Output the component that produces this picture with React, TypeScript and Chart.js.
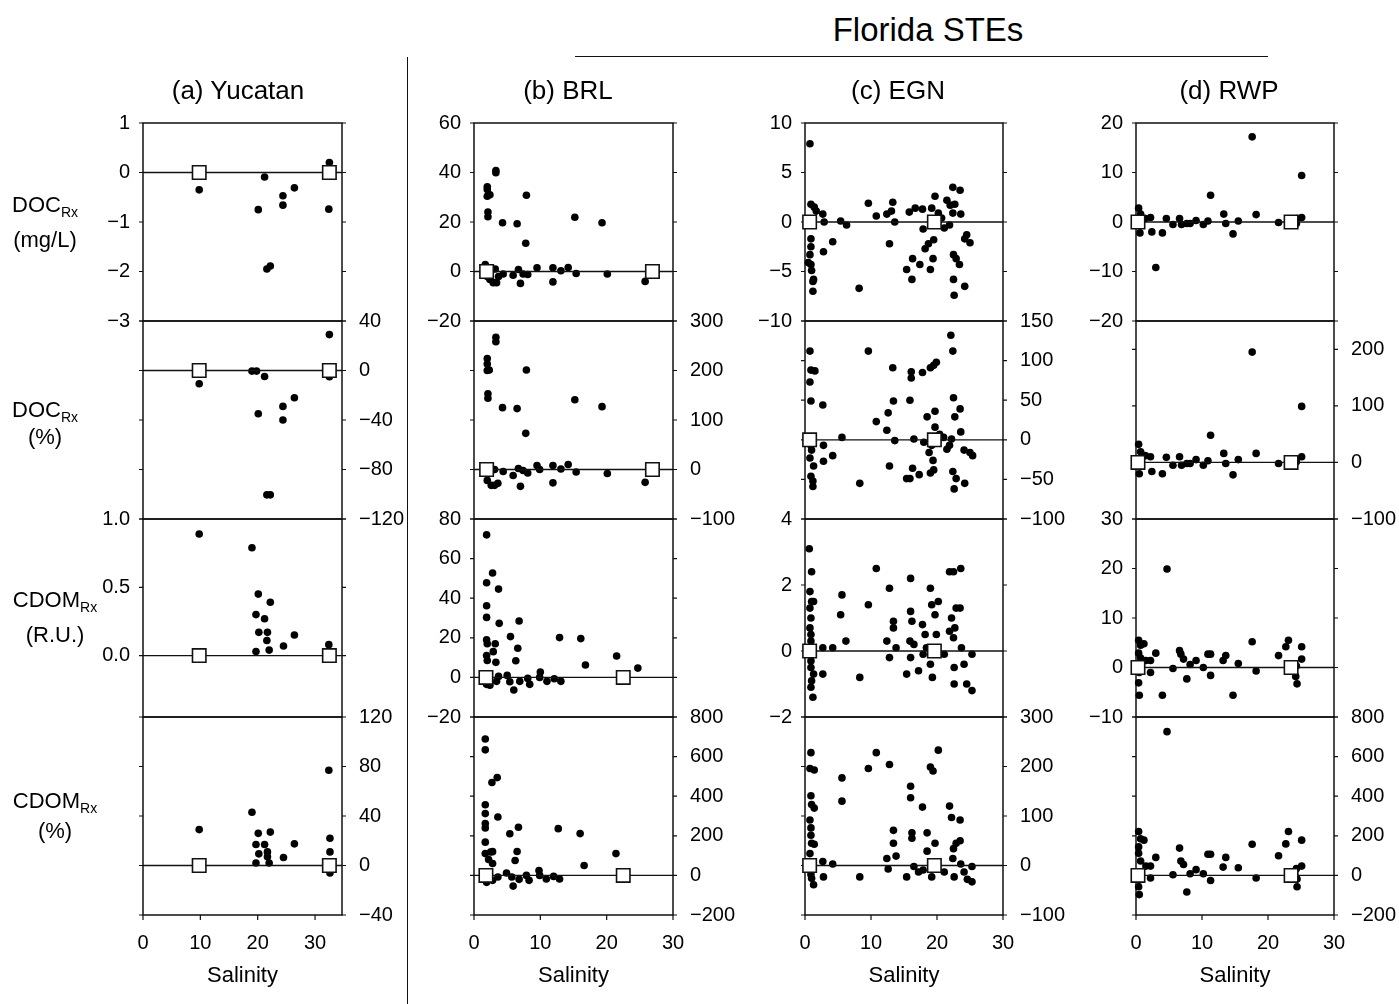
import React, { useEffect, useRef } from 'react';
import { Chart, registerables } from 'chart.js';
Chart.register(...registerables);

type Pt = [number, number];

// ---------- X tick labels (salinity) ----------
const salinityTicks = [0, 10, 20, 30];

// ---------- End members (open squares, value 0) ----------
const yucEnds = [9.8, 32.5];
const brlEndsDoc = [1.9, 26.9];
const brlEndsCdom = [1.8, 22.5];
const egnEnds = [0.7, 19.6];
const rwpEnds = [0.3, 23.5];

// ---------- (a) Yucatan ----------
const yucDocMgL: Pt[] = [[9.8, -0.35], [21.2, -0.09], [20.1, -0.75], [24.4, -0.47], [24.4, -0.66], [26.4, -0.31], [32.5, 0.2], [32.4, -0.74], [21.6, -1.95], [22.2, -1.89]];
const yucDocPct: Pt[] = [[9.8, -10.7], [19.0, -0.5], [19.8, -0.5], [21.2, -4.8], [20.1, -35], [24.4, -29], [24.4, -40], [26.4, -22], [32.5, 29], [32.5, -5], [21.6, -100.5], [22.2, -100.5]];
const yucCdomRU: Pt[] = [[9.8, 0.89], [19.0, 0.79], [20.1, 0.45], [22.2, 0.39], [19.7, 0.3], [21.2, 0.27], [20.2, 0.17], [21.7, 0.17], [21.6, 0.11], [26.4, 0.15], [24.5, 0.07], [19.7, 0.03], [22.0, 0.04], [32.4, 0.08]];
const yucCdomPct: Pt[] = [[9.8, 29], [19.0, 43], [20.1, 26], [22.2, 27], [19.7, 17], [21.2, 17], [20.2, 9.4], [21.7, 11], [21.7, 7], [19.7, 2], [22.0, 2], [24.5, 6.5], [26.4, 17.5], [32.4, 77], [32.6, 22], [32.6, 11], [32.6, -6]];

// ---------- (b) BRL ----------
const brlDocMgL: Pt[] = [[3.3, 40.8], [3.3, 39.9], [2.0, 34.2], [2.0, 33.1], [2.0, 30.4], [2.4, 31], [2.1, 24], [2.1, 22.1], [4.3, 19.7], [6.5, 19.3], [7.9, 30.8], [7.8, 11.4], [15.2, 21.9], [19.3, 19.7],
  [1.7, 2.8], [2.0, -2], [2.4, -3.2], [2.9, -4.5], [3.4, -4.5], [3.7, -2], [3.2, 1], [4.4, -1], [5.9, -1.5], [6.7, 0.8], [7.0, -4.8], [7.4, -1], [8.1, -1.2], [9.5, 1.5], [11.9, 1.5], [11.9, -4.2], [13.1, 0.3], [14.2, 1.6], [15.4, -0.8], [20.1, -1], [25.8, -4]];
const brlDocPct: Pt[] = [[3.3, 267], [3.3, 258], [2.0, 224], [2.0, 213], [2.0, 200], [2.3, 201], [7.9, 201], [2.1, 153], [2.1, 144], [4.3, 125], [6.5, 123], [7.8, 73], [15.2, 141], [19.3, 127],
  [1.7, 7], [2.0, -22], [2.6, -32], [3.1, -32], [3.6, -28], [3.1, 0], [4.4, -4], [5.9, -12], [6.7, 2], [7.0, -34], [7.4, -2], [8.1, -7], [9.5, 8], [9.9, 0], [11.9, 8], [11.9, -27], [13.1, 1], [14.2, 10], [15.4, -5], [20.1, -8], [25.8, -26]];
const brlCdomRU: Pt[] = [[1.9, 72], [2.8, 52.7], [1.9, 47.8], [3.7, 44.6], [1.9, 36.2], [1.9, 30.3], [3.8, 27.3], [6.8, 28.5], [5.5, 20.6], [1.9, 19], [2.0, 17], [3.2, 17], [6.6, 14.7], [2.9, 13], [1.9, 11], [2.0, 8.5], [3.3, 7.6], [6.3, 8.4], [12.9, 20.1], [16.1, 19.6], [16.8, 6.3], [21.5, 10.8], [24.7, 4.7],
  [1.9, -3.5], [2.4, -4], [3.4, -2], [3.7, 0.5], [5.0, 1], [5.4, -2.2], [6.0, -6.4], [6.9, -2], [8.1, -0.5], [8.4, -3.5], [10.0, 2.7], [9.9, 0], [11.0, -2], [12.1, -0.7], [13.1, -2]];
const brlCdomPct: Pt[] = [[1.7, 689], [1.7, 634], [3.5, 494], [2.7, 469], [1.7, 357], [1.7, 312], [3.6, 295], [1.7, 262], [1.7, 240], [6.7, 243], [5.4, 210], [1.7, 168], [6.5, 121], [6.2, 75], [1.7, 110], [2.5, 118], [2.8, 120], [2.2, 80], [2.8, 60], [12.7, 236], [16.0, 211], [16.6, 50], [21.4, 110],
  [1.9, -35], [2.8, -25], [3.6, -8], [4.9, 12], [5.7, -8], [5.9, -54], [6.8, -20], [7.9, 0], [8.3, -25], [9.8, 25], [9.9, 0], [10.9, -18], [12.0, -5], [12.9, -18]];

// ---------- (c) EGN ----------
const egnDocMgL: Pt[] = [[0.75, 7.9], [0.9, 1.8], [1.4, 1.5], [1.7, 1.1], [2.7, 0.8], [2.9, 0],
  [0.9, -1.7], [0.9, -2.5], [0.75, -3.3], [0.5, -4.1], [0.9, -4.3], [1.0, -4.9], [1.3, -5.8], [1.2, -6.0], [1.2, -7.0],
  [2.8, -3.0], [4.2, -2.0], [5.4, 0.1], [6.3, -0.3], [8.2, -6.7], [9.6, 1.9], [10.8, 0.6], [12.4, 0.8], [13.3, 2.0], [13.1, 1.1], [12.8, -2.2], [13.6, 0],
  [15.4, -4.8], [16.2, -5.8], [16.3, -3.7], [15.8, 1.0], [16.7, 1.4], [17.4, -4.3], [17.8, 1.3], [17.9, -0.7],
  [18.2, -2.7], [18.7, -2.2], [19.0, -4.8], [19.4, -3.7], [19.5, -1.8], [19.2, 1.4], [19.7, 2.6],
  [20.2, 0.9], [20.7, 0.4], [21.1, -0.6], [21.5, 2.2], [21.9, -0.3], [22.0, 1.7], [22.4, 3.5], [22.7, 1.8], [22.4, 0.9],
  [22.5, -3.3], [22.9, -3.7], [23.4, -4.3], [22.5, -5.8], [22.6, -7.4], [23.5, 3.2], [23.6, 0.8],
  [24.2, -1.7], [24.5, -1.3], [25.0, -2.1], [24.2, -6.5]];
const egnDocPct: Pt[] = [[0.75, 112], [0.9, 88], [1.5, 87], [0.75, 73], [0.9, 49], [2.7, 44],
  [0.9, -7], [1.0, -13], [0.75, -23], [1.3, -33], [0.9, -46], [1.2, -52], [1.2, -59],
  [2.8, -7], [2.8, -27], [4.2, -20], [5.6, 3], [8.3, -55], [9.6, 112],
  [10.8, 23], [12.4, 12], [12.6, 34], [13.3, 91], [13.4, 49], [12.8, -33], [13.6, -1],
  [15.4, -49], [15.9, -49], [16.1, 86], [16.1, 78], [15.9, 50], [16.5, 1], [16.3, -36], [17.3, -44], [17.8, 85], [18.0, -3],
  [18.5, 29], [19.0, -42], [18.8, -16], [19.2, -7], [19.4, -26], [19.5, -38], [19.0, 91], [19.5, 94], [19.9, 98], [19.7, 36], [19.7, 16],
  [20.4, 7], [21.0, 3], [21.5, -12], [21.9, -7], [22.1, 132], [22.4, 112], [22.5, 53], [22.7, 29], [23.5, 39], [23.6, 10], [22.2, 1],
  [22.4, -40], [22.9, -49], [22.6, -62], [24.2, -55], [24.1, -13], [25.0, -16], [25.4, -20]];
const egnCdomRU: Pt[] = [[0.65, 3.1], [1.0, 2.4], [0.75, 1.8], [1.0, 1.5], [1.3, 1.5], [0.75, 1.3], [0.9, 1.0], [0.75, 0.7], [0.9, 0.5], [0.9, 0.3],
  [0.9, -0.3], [0.9, -0.5], [1.3, -0.7], [1.0, -0.9], [0.9, -1.1], [1.2, -1.4],
  [2.7, 0.1], [2.7, -0.7], [4.2, 0.1], [5.6, 1.7], [5.4, 1.1], [6.2, 0.3], [8.3, -0.8], [9.6, 1.4], [10.8, 2.5],
  [12.4, 0.3], [12.8, 1.9], [13.4, 0.9], [13.4, 0.7], [12.8, -0.2], [13.8, 0.1],
  [15.4, -0.7], [16.0, 2.2], [16.0, 1.2], [16.2, 0.9], [15.9, 0.3], [16.0, -0.2], [16.5, 0.2],
  [17.2, -0.6], [17.8, 0.8], [18.2, 0.5], [17.9, -0.1], [18.4, 0.1], [19.0, 1.9], [19.2, 1.4], [19.0, -0.4], [19.3, -0.8], [19.7, 1.1], [19.9, 0.5], [20.2, 1.5],
  [21.1, -0.1], [21.9, 0.6], [21.9, 2.4], [22.5, 2.4], [23.6, 2.5], [22.2, 1.0], [22.5, 0.4], [22.7, 0.7], [22.9, 1.3], [23.5, 1.3], [23.7, 0.1],
  [22.6, -0.5], [22.6, -1.0], [24.1, -0.4], [24.5, -1.0], [25.3, -0.1], [25.3, -1.2]];
const egnCdomPct: Pt[] = [[0.9, 228], [0.75, 196], [1.4, 193], [0.9, 141], [1.0, 123], [1.4, 116], [0.75, 92], [0.9, 76], [0.9, 61], [1.0, 45], [1.4, 43], [0.75, 24],
  [0.9, -18], [1.0, -26], [1.3, -39],
  [2.7, 8], [2.8, -23], [4.2, 3], [5.6, 177], [5.6, 130], [8.3, -23], [9.6, 196], [10.8, 228],
  [12.4, 14], [12.8, 204], [13.4, 71], [13.4, 45], [12.6, -7], [13.8, 19],
  [15.4, -23], [16.0, 160], [16.0, 137], [16.2, 66], [16.2, 55], [16.5, -2], [17.2, -13], [17.8, 118], [17.9, -9], [18.5, 66], [18.5, 29], [19.0, 199], [19.4, 191], [19.7, 45], [19.2, -23], [20.2, 233],
  [21.1, -13], [21.9, 120], [22.2, 97], [22.4, 14], [22.5, 34], [22.6, -23], [22.9, 45], [23.5, 50], [23.5, 92], [23.6, 3], [24.1, -13], [24.6, -28], [25.3, -2], [25.3, -33]];

// ---------- (d) RWP ----------
const rwpDocMgL: Pt[] = [[0.4, 2.8], [0.7, 1.6], [0.6, -2.2], [1.4, 0.7], [2.2, 0.9], [2.4, -2.0], [4.0, -2.2], [3.0, -9.2],
  [4.6, 0.7], [5.6, -0.5], [6.6, 0.7], [6.9, -0.5], [7.7, -0.3], [8.2, -0.3], [9.1, 0.3], [10.2, -0.5], [10.9, 0.2], [11.3, 5.4],
  [13.3, 1.6], [13.6, -0.3], [14.7, -2.4], [15.5, 0.2], [17.6, 17.2], [18.2, 1.5],
  [21.6, -0.1], [24.4, 0.7], [25.1, 0.9], [25.1, 9.4], [24.3, -0.3]];
const rwpDocPct: Pt[] = [[0.4, 32], [0.7, 19], [0.5, -20], [1.4, 12], [2.2, 10], [2.4, -16], [4.0, -20],
  [4.6, 9], [5.6, -5], [6.6, 10], [6.9, -5], [7.7, -2], [8.2, -2], [9.1, 5], [10.2, -5], [10.9, 3], [11.3, 48],
  [13.3, 16], [13.6, -2], [14.7, -22], [15.5, 5], [17.6, 195], [18.2, 16],
  [21.6, -2], [24.3, 1], [25.1, 10], [25.1, 99]];
const rwpCdomRU: Pt[] = [[4.7, 19.9], [0.4, 5.5], [0.7, 4.5], [1.2, 4.8], [0.4, 2.9], [0.7, 1.9], [1.5, 1.4], [2.2, 1.4], [0.5, -1], [2.2, -1], [0.4, -3.1], [0.5, -5.6],
  [3.0, 2.9], [4.0, -5.6], [5.6, -0.2], [6.6, 3.4], [6.8, 2.7], [7.2, 1.7], [7.7, -2.3], [8.2, 0.6], [9.1, 1.4], [10.2, 0], [10.9, 2.7], [11.3, 2.7], [11.3, -1.6],
  [13.2, 1.4], [13.6, 2.4], [14.7, -5.6], [15.5, 0.8], [17.6, 5.2], [18.2, -0.7],
  [21.6, 2.4], [22.7, 4.2], [23.1, 5.5], [24.2, -1.8], [24.4, -3.3], [25.1, 4.2], [25.1, 1.7], [24.3, 0.3]];
const rwpCdomPct: Pt[] = [[4.7, 726], [0.4, 222], [0.7, 185], [1.2, 178], [0.4, 144], [0.4, 112], [0.7, 73], [1.5, 47], [2.2, 47], [0.5, -23], [2.2, -13], [0.4, -57], [0.5, -97],
  [3.0, 91], [5.6, 3], [6.6, 138], [6.8, 73], [7.2, 55], [7.7, -84], [8.2, 8], [9.1, 29], [10.2, 8], [10.9, 107], [11.3, 107], [11.3, -26],
  [13.2, 42], [13.6, 91], [15.5, 39], [17.6, 157], [18.2, -13],
  [21.6, 99], [22.7, 159], [23.1, 222], [24.4, -18], [24.4, -57], [25.1, 178], [25.1, 47], [24.3, 34]];

// ---------- Text ----------
const columnTitles = ['(a) Yucatan', '(b) BRL', '(c) EGN', '(d) RWP'];
const groupTitle = 'Florida STEs';
const xTitle = 'Salinity';
const rowLabels: [string, string][] = [['DOC', '(mg/L)'], ['DOC', '(%)'], ['CDOM', '(R.U.)'], ['CDOM', '(%)']];

// ---------- Layout (pixels) ----------
const FONT = '"Liberation Sans", Arial, Helvetica, sans-serif';
const COL_X: [number, number][] = [[143, 342], [474, 673], [805, 1003], [1136, 1334]];
const ROW_Y: [number, number][] = [[123, 321], [321, 519], [519, 717], [717, 915]];
const COL_XMAX = [34.7, 30, 30, 30];

interface Spec {
  col: number; row: number; dots: Pt[]; ends: number[];
  min: number; max: number; ticks: number[]; side: 'left' | 'right'; decimals?: number;
}

const SPECS: Spec[] = [
  { col: 0, row: 0, dots: yucDocMgL, ends: yucEnds, min: -3, max: 1, ticks: [-3, -2, -1, 0, 1], side: 'left' },
  { col: 0, row: 1, dots: yucDocPct, ends: yucEnds, min: -120, max: 40, ticks: [-120, -80, -40, 0, 40], side: 'right' },
  { col: 0, row: 2, dots: yucCdomRU, ends: yucEnds, min: -0.45, max: 1, ticks: [0, 0.5, 1], side: 'left', decimals: 1 },
  { col: 0, row: 3, dots: yucCdomPct, ends: yucEnds, min: -40, max: 120, ticks: [-40, 0, 40, 80, 120], side: 'right' },
  { col: 1, row: 0, dots: brlDocMgL, ends: brlEndsDoc, min: -20, max: 60, ticks: [-20, 0, 20, 40, 60], side: 'left' },
  { col: 1, row: 1, dots: brlDocPct, ends: brlEndsDoc, min: -100, max: 300, ticks: [-100, 0, 100, 200, 300], side: 'right' },
  { col: 1, row: 2, dots: brlCdomRU, ends: brlEndsCdom, min: -20, max: 80, ticks: [-20, 0, 20, 40, 60, 80], side: 'left' },
  { col: 1, row: 3, dots: brlCdomPct, ends: brlEndsCdom, min: -200, max: 800, ticks: [-200, 0, 200, 400, 600, 800], side: 'right' },
  { col: 2, row: 0, dots: egnDocMgL, ends: egnEnds, min: -10, max: 10, ticks: [-10, -5, 0, 5, 10], side: 'left' },
  { col: 2, row: 1, dots: egnDocPct, ends: egnEnds, min: -100, max: 150, ticks: [-100, -50, 0, 50, 100, 150], side: 'right' },
  { col: 2, row: 2, dots: egnCdomRU, ends: egnEnds, min: -2, max: 4, ticks: [-2, 0, 2, 4], side: 'left' },
  { col: 2, row: 3, dots: egnCdomPct, ends: egnEnds, min: -100, max: 300, ticks: [-100, 0, 100, 200, 300], side: 'right' },
  { col: 3, row: 0, dots: rwpDocMgL, ends: rwpEnds, min: -20, max: 20, ticks: [-20, -10, 0, 10, 20], side: 'left' },
  { col: 3, row: 1, dots: rwpDocPct, ends: rwpEnds, min: -100, max: 250, ticks: [-100, 0, 100, 200], side: 'right' },
  { col: 3, row: 2, dots: rwpCdomRU, ends: rwpEnds, min: -10, max: 30, ticks: [-10, 0, 10, 20, 30], side: 'left' },
  { col: 3, row: 3, dots: rwpCdomPct, ends: rwpEnds, min: -200, max: 800, ticks: [-200, 0, 200, 400, 600, 800], side: 'right' },
];

const SIDE = 70;
const PADV = 34;
const XAXIS_H = 50;

const framePlugin = {
  id: 'panelFrame',
  beforeDatasetsDraw(chart: any) {
    const { ctx, chartArea } = chart;
    const { left, right, top, bottom } = chartArea;
    const ys = chart.scales.y;
    const xs = chart.scales.x;
    ctx.save();
    ctx.strokeStyle = '#111';
    ctx.lineWidth = 1.5;
    ctx.strokeRect(left, top, right - left, bottom - top);
    ctx.lineWidth = 1.2;
    ctx.beginPath();
    ys.ticks.forEach((t: any) => {
      const y = ys.getPixelForValue(t.value);
      ctx.moveTo(left - 4, y); ctx.lineTo(left, y);
      ctx.moveTo(right, y); ctx.lineTo(right + 4, y);
    });
    if (xs.options.display) {
      xs.ticks.forEach((t: any) => {
        const x = xs.getPixelForValue(t.value);
        ctx.moveTo(x, bottom); ctx.lineTo(x, bottom + 5);
      });
    }
    ctx.stroke();
    ctx.restore();
  },
};

function Panel({ spec }: { spec: Spec }) {
  const ref = useRef<HTMLCanvasElement>(null);
  const [x0, x1] = COL_X[spec.col];
  const [y0, y1] = ROW_Y[spec.row];
  const isBottom = spec.row === 3;
  const W = x1 - x0 + 2 * SIDE;
  const H = y1 - y0 + PADV + (isBottom ? XAXIS_H : PADV);
  useEffect(() => {
    const xMax = COL_XMAX[spec.col];
    const fmt = (v: number) => (spec.decimals ? v.toFixed(spec.decimals) : String(v)).replace('-', '\u2212');
    const chart = new Chart(ref.current as HTMLCanvasElement, {
      type: 'scatter',
      data: {
        datasets: [
          {
            data: spec.ends.map((x) => ({ x, y: 0 })),
            pointStyle: 'rect', pointRadius: 9.5, pointHoverRadius: 9.5,
            pointBackgroundColor: '#fff', pointBorderColor: '#111', pointBorderWidth: 1.6,
            order: 0, clip: false,
          } as any,
          {
            data: [{ x: 0, y: 0 }, { x: xMax, y: 0 }],
            showLine: true, borderColor: '#111', borderWidth: 1.3, pointRadius: 0, order: 1,
          } as any,
          {
            data: spec.dots.map(([x, y]) => ({ x, y })),
            pointStyle: 'circle', pointRadius: 3.8, pointHoverRadius: 3.8,
            pointBackgroundColor: '#000', pointBorderColor: '#000', pointBorderWidth: 0,
            order: 2, clip: false,
          } as any,
        ],
      },
      options: {
        responsive: false,
        animation: false,
        devicePixelRatio: 1,
        events: [],
        layout: {
          padding: {
            left: spec.side === 'right' ? SIDE : 0,
            right: spec.side === 'left' ? SIDE : 0,
            top: PADV,
            bottom: isBottom ? 0 : PADV,
          },
        },
        plugins: { legend: { display: false }, tooltip: { enabled: false } },
        scales: {
          x: {
            type: 'linear', min: 0, max: xMax, display: isBottom,
            grid: { display: false }, border: { display: false },
            ticks: { color: '#000', font: { family: FONT, size: 20 }, padding: 8, maxRotation: 0 },
            afterBuildTicks: (s: any) => { s.ticks = salinityTicks.map((v) => ({ value: v })); },
            afterFit: (s: any) => { s.height = isBottom ? XAXIS_H : 0; },
          },
          y: {
            type: 'linear', position: spec.side, min: spec.min, max: spec.max,
            grid: { display: false }, border: { display: false },
            ticks: {
              color: '#000', font: { family: FONT, size: 20 },
              padding: spec.side === 'left' ? 5 : 9,
              callback: (v: any) => fmt(Number(v)),
            },
            afterBuildTicks: (s: any) => { s.ticks = spec.ticks.map((v) => ({ value: v })); },
            afterFit: (s: any) => { s.width = SIDE; },
          },
        },
      } as any,
      plugins: [framePlugin],
    });
    return () => chart.destroy();
  }, []);
  return (
    <canvas
      ref={ref}
      width={W}
      height={H}
      style={{ position: 'absolute', left: x0 - SIDE, top: y0 - PADV, width: W, height: H }}
    />
  );
}

const txt = (cx: number, cy: number, size: number, content: React.ReactNode, key?: string) => (
  <div
    key={key}
    style={{
      position: 'absolute', left: cx, top: cy, transform: 'translate(-50%, -50%)',
      fontFamily: FONT, fontSize: size, color: '#000', whiteSpace: 'nowrap', lineHeight: 1.15, textAlign: 'center',
    }}
  >
    {content}
  </div>
);

const ROW_LABEL_POS: [number, number, number][] = [[45, 205, 240], [45, 410, 437], [55, 600, 635], [55, 801, 831]];
const TITLE_X = [238, 568, 898, 1229];

export default function App() {
  return (
    <div style={{ position: 'absolute', left: 0, top: 0, width: 1399, height: 1004, background: '#fff', overflow: 'hidden' }}>
      {SPECS.map((s, i) => <Panel key={i} spec={s} />)}
      {txt(928, 30, 33, groupTitle, 'grp')}
      <div style={{ position: 'absolute', left: 575, top: 56, width: 693, height: 0, borderTop: '1.5px solid #111' }} />
      <div style={{ position: 'absolute', left: 407, top: 57, width: 0, height: 947, borderLeft: '1.5px solid #111' }} />
      {columnTitles.map((t, i) => txt(TITLE_X[i], 91, 26, t, 't' + i))}
      {COL_X.map(([a, b], i) => txt((a + b) / 2, 975, 22, xTitle, 's' + i))}
      {rowLabels.map(([main, unit], i) => (
        <React.Fragment key={'r' + i}>
          {txt(ROW_LABEL_POS[i][0], ROW_LABEL_POS[i][1], 22, <span>{main}<span style={{ fontSize: 14, position: 'relative', top: 5 }}>Rx</span></span>)}
          {txt(ROW_LABEL_POS[i][0], ROW_LABEL_POS[i][2], 22, unit)}
        </React.Fragment>
      ))}
    </div>
  );
}
